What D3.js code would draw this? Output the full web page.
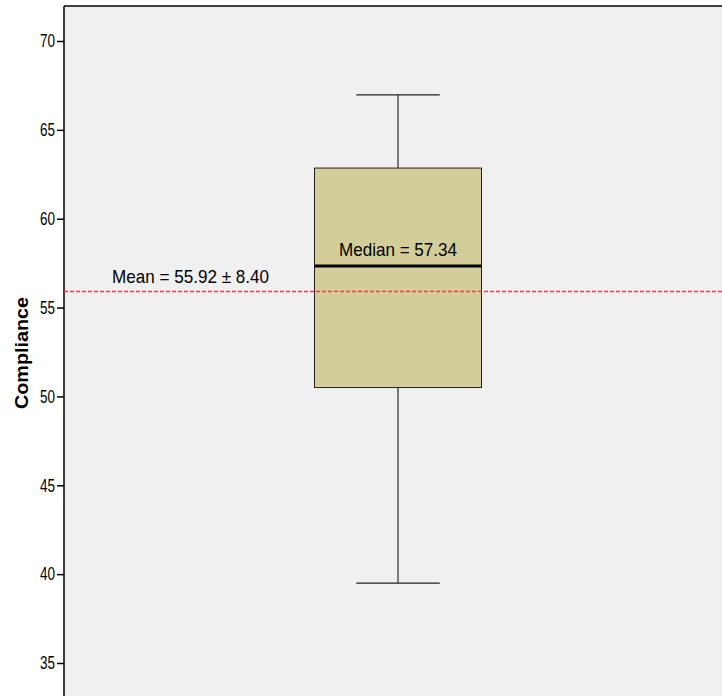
<!DOCTYPE html>
<html>
<head>
<meta charset="utf-8">
<script src="https://cdn.jsdelivr.net/npm/d3@7"></script>
<style>
  body { margin: 0; background: #fff; }
  text { font-family: "Liberation Sans", Arial, sans-serif; }
</style>
</head>
<body>
<div id="chart"></div>
<script>
// box plot summary values
var categories = ["Compliance"];
var stats = [{ min: 39.5, q1: 50.5, median: 57.34, q3: 62.85, max: 66.97 }];
var meanValue = 55.92;
var sdValue = 8.40;
var yTicks = [35, 40, 45, 50, 55, 60, 65, 70];

var width = 722, height = 696;
var margin = {top: 6, left: 64};

var svg = d3.select("#chart").append("svg")
    .attr("width", width)
    .attr("height", height);

var y = d3.scaleLinear()
    .domain([35, 70])
    .range([663, 41]);

var x = d3.scaleBand()
    .domain(categories)
    .range([margin.left, 732])
    .paddingInner(0)
    .paddingOuter(1.5);

// plot background
svg.append("rect")
    .attr("x", margin.left)
    .attr("y", margin.top)
    .attr("width", width - margin.left + 10)
    .attr("height", height)
    .attr("fill", "#f0f0f0");

// frame top border
svg.append("line")
    .attr("x1", margin.left).attr("x2", width)
    .attr("y1", margin.top).attr("y2", margin.top)
    .attr("stroke", "#000").attr("stroke-width", 1.5);

// y axis
var yAxis = svg.append("g")
    .attr("transform", "translate(" + margin.left + ",0)")
    .call(d3.axisLeft(y).tickValues(yTicks).tickSize(7).tickPadding(2));
yAxis.select(".domain").remove();
yAxis.selectAll(".tick line").attr("stroke", "#000").attr("stroke-width", 1.5);
yAxis.selectAll(".tick text")
    .attr("font-size", "18px")
    .attr("fill", "#000")
    .attr("textLength", 15)
    .attr("lengthAdjust", "spacingAndGlyphs")
    .attr("font-family", "'Liberation Sans', Arial, sans-serif");

svg.append("line")
    .attr("x1", margin.left).attr("x2", margin.left)
    .attr("y1", margin.top).attr("y2", height)
    .attr("stroke", "#000").attr("stroke-width", 1.5);

svg.append("text")
    .attr("transform", "translate(28,353) rotate(-90)")
    .attr("text-anchor", "middle")
    .attr("font-size", "19px")
    .attr("font-weight", "bold")
    .attr("textLength", 112)
    .attr("lengthAdjust", "spacingAndGlyphs")
    .text("Compliance");

// box
var g = svg.selectAll(".box")
    .data(stats)
    .enter().append("g")
    .attr("class", "box");

var bw = x.bandwidth();
var cx = function(d, i) { return x(categories[i]) + bw / 2; };

g.append("line")
    .attr("x1", cx).attr("x2", cx)
    .attr("y1", function(d) { return y(d.max); })
    .attr("y2", function(d) { return y(d.min); })
    .attr("stroke", "#000").attr("stroke-width", 1);

g.append("rect")
    .attr("x", function(d, i) { return x(categories[i]); })
    .attr("width", bw)
    .attr("y", function(d) { return y(d.q3); })
    .attr("height", function(d) { return y(d.q1) - y(d.q3); })
    .attr("fill", "#d3ce99")
    .attr("stroke", "#222").attr("stroke-width", 1);

g.append("line")
    .attr("x1", function(d, i) { return x(categories[i]); })
    .attr("x2", function(d, i) { return x(categories[i]) + bw; })
    .attr("y1", function(d) { return y(d.median); })
    .attr("y2", function(d) { return y(d.median); })
    .attr("stroke", "#000").attr("stroke-width", 3);

["min", "max"].forEach(function(k) {
    g.append("line")
        .attr("x1", function(d, i) { return cx(d, i) - bw / 4; })
        .attr("x2", function(d, i) { return cx(d, i) + bw / 4; })
        .attr("y1", function(d) { return y(d[k]); })
        .attr("y2", function(d) { return y(d[k]); })
        .attr("stroke", "#222").attr("stroke-width", 1.3);
});

g.append("text")
    .attr("x", cx)
    .attr("y", function(d) { return y(d.median) - 10; })
    .attr("text-anchor", "middle")
    .attr("font-size", "19px")
    .attr("textLength", 118)
    .attr("lengthAdjust", "spacingAndGlyphs")
    .text(function(d) { return "Median = " + d.median.toFixed(2); });

// mean reference line
svg.append("line")
    .attr("x1", margin.left).attr("x2", width)
    .attr("y1", Math.round(y(meanValue)) + 0.5).attr("y2", Math.round(y(meanValue)) + 0.5)
    .attr("stroke", "#f03c44").attr("stroke-width", 1.3)
    .attr("stroke-dasharray", "4,2");

svg.append("text")
    .attr("x", 112)
    .attr("y", y(meanValue) - 8)
    .attr("font-size", "19px")
    .attr("textLength", 157)
    .attr("lengthAdjust", "spacingAndGlyphs")
    .text("Mean = " + meanValue.toFixed(2) + " \u00b1 " + sdValue.toFixed(2));
</script>
</body>
</html>
